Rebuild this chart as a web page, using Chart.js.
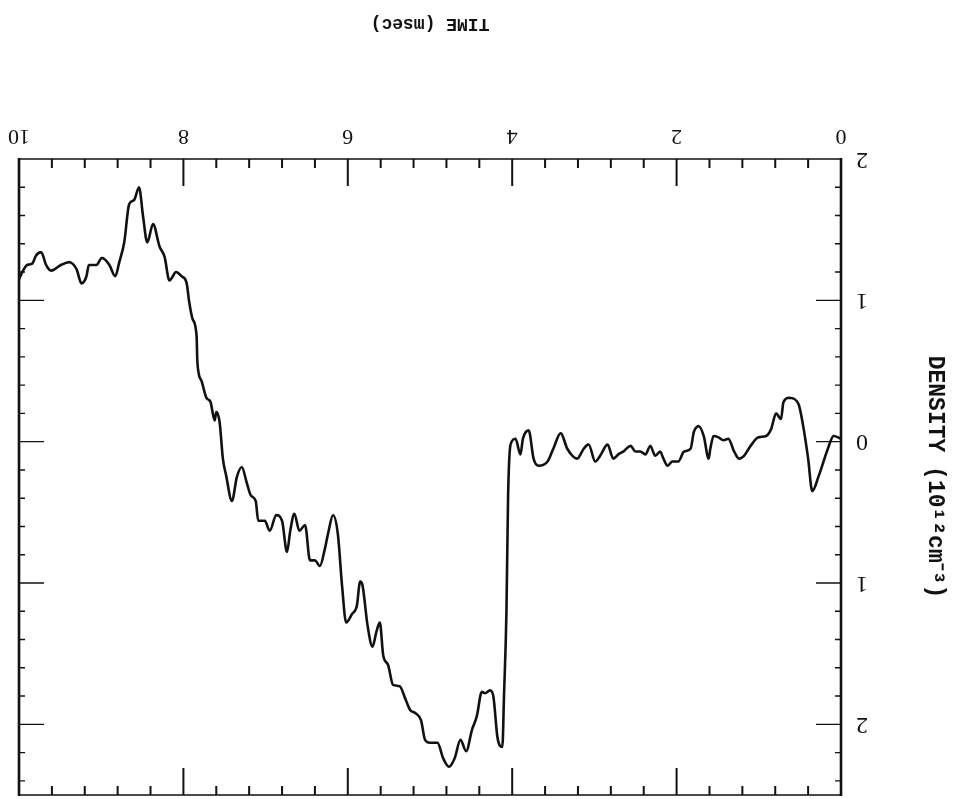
<!DOCTYPE html>
<html>
<head>
<meta charset="utf-8">
<script src="https://cdn.jsdelivr.net/npm/chart.js@4/dist/chart.umd.min.js"></script>
<style>
  html, body { margin: 0; padding: 0; background: #fff; }
  #wrap { width: 956px; height: 799px; position: relative; transform: rotate(180deg); }
</style>
</head>
<body>
<div id="wrap"><canvas id="plot"></canvas></div>
<script>
// Plasma density trace versus time
const TIME_MS = [
  0.00, 0.09, 0.16, 0.27, 0.35, 0.40, 0.46, 0.52, 0.63, 0.70, 0.73, 0.79, 0.85, 0.91,
  1.01, 1.10, 1.18, 1.24, 1.30, 1.37, 1.43, 1.49, 1.55, 1.59, 1.61, 1.67, 1.73, 1.79,
  1.83, 1.91, 1.98, 2.05, 2.11, 2.16, 2.20, 2.26, 2.32, 2.38, 2.44, 2.50, 2.56, 2.65,
  2.71, 2.77, 2.84, 2.93, 2.99, 3.07, 3.13, 3.21, 3.33, 3.41, 3.50, 3.57, 3.68, 3.74,
  3.80, 3.87, 3.90, 3.96, 4.02, 4.05, 4.07, 4.10, 4.12, 4.18, 4.23, 4.27, 4.33, 4.37,
  4.43, 4.49, 4.56, 4.63, 4.70, 4.77, 4.84, 4.91, 5.00, 5.06, 5.11, 5.18, 5.24, 5.30,
  5.37, 5.45, 5.51, 5.57, 5.61, 5.65, 5.70, 5.76, 5.82, 5.85, 5.89, 5.95, 6.02, 6.07,
  6.12, 6.18, 6.24, 6.28, 6.34, 6.40, 6.46, 6.52, 6.59, 6.65, 6.70, 6.74, 6.80, 6.87,
  6.95, 7.01, 7.09, 7.12, 7.18, 7.23, 7.29, 7.35, 7.41, 7.48, 7.52, 7.56, 7.60, 7.62,
  7.67, 7.72, 7.78, 7.83, 7.84, 7.89, 7.93, 7.96, 8.02, 8.09, 8.17, 8.23, 8.29, 8.37,
  8.44, 8.49, 8.54, 8.60, 8.66, 8.72, 8.78, 8.83, 8.90, 8.99, 9.06, 9.15, 9.18, 9.24,
  9.30, 9.39, 9.49, 9.61, 9.67, 9.73, 9.79, 9.84, 9.90, 9.96, 10.00
];
const DENSITY = [
  -0.02, -0.04, 0.05, 0.24, 0.35, 0.12, -0.11, -0.27, -0.31, -0.28, -0.16, -0.20, -0.09, -0.04,
  -0.03, 0.03, 0.10, 0.12, 0.07, -0.02, -0.01, -0.03, -0.04, 0.05, 0.12, -0.04, -0.11, -0.07,
  0.05, 0.07, 0.14, 0.14, 0.17, 0.12, 0.07, 0.10, 0.03, 0.09, 0.07, 0.07, 0.03, 0.07,
  0.09, 0.12, 0.02, 0.10, 0.14, 0.02, 0.05, 0.12, 0.05, -0.06, 0.05, 0.14, 0.17, 0.12,
  -0.08, -0.02, 0.09, -0.02, 0.02, 0.38, 1.20, 1.80, 2.16, 2.09, 1.80, 1.76, 1.78, 1.77,
  1.94, 2.04, 2.19, 2.11, 2.24, 2.30, 2.24, 2.13, 2.13, 2.11, 1.97, 1.92, 1.90, 1.82,
  1.73, 1.72, 1.58, 1.51, 1.28, 1.34, 1.45, 1.30, 1.02, 0.99, 1.16, 1.22, 1.28, 1.02,
  0.66, 0.52, 0.65, 0.76, 0.88, 0.84, 0.84, 0.59, 0.63, 0.51, 0.63, 0.78, 0.56, 0.52,
  0.63, 0.56, 0.56, 0.42, 0.38, 0.29, 0.18, 0.25, 0.42, 0.24, 0.12, -0.14, -0.21, -0.15,
  -0.28, -0.31, -0.43, -0.56, -0.75, -0.87, -0.99, -1.12, -1.17, -1.20, -1.14, -1.31, -1.38, -1.54,
  -1.41, -1.59, -1.80, -1.71, -1.68, -1.41, -1.27, -1.17, -1.25, -1.30, -1.25, -1.25, -1.17, -1.12,
  -1.22, -1.27, -1.25, -1.21, -1.25, -1.34, -1.32, -1.26, -1.25, -1.20, -1.15
];
const X_TICKS = [0, 2, 4, 6, 8, 10];
const X_TICK_LABELS = ['0', '2', '4', '6', '8', '10'];
const Y_TICKS = [-2, -1, 0, 1, 2];
const Y_TICK_LABELS = ['2', '1', '0', '1', '2'];
const X_TITLE = 'TIME (msec)';
const Y_TITLE = 'DENSITY (10\u00B9\u00B2cm\u207B\u00B3)';

const INK = '#111';

// Closed frame with tick marks pointing into the plot on all four sides
const frameTicks = {
  id: 'frameTicks',
  afterDatasetsDraw(chart) {
    const { ctx, chartArea: a, scales: { x, y } } = chart;
    ctx.save();
    ctx.strokeStyle = INK;
    ctx.lineCap = 'butt';

    // horizontal edges
    ctx.lineWidth = 1.6;
    ctx.beginPath();
    ctx.moveTo(a.left, a.top); ctx.lineTo(a.right, a.top);
    ctx.moveTo(a.left, a.bottom); ctx.lineTo(a.right, a.bottom);
    ctx.stroke();
    // vertical edges
    ctx.lineWidth = 2.6;
    ctx.beginPath();
    ctx.moveTo(a.left, a.top - 1); ctx.lineTo(a.left, a.bottom + 1);
    ctx.moveTo(a.right, a.top - 1); ctx.lineTo(a.right, a.bottom + 1);
    ctx.stroke();

    // time ticks: every 0.4 ms, long ones every 2 ms
    ctx.lineWidth = 2;
    ctx.beginPath();
    for (let i = 1; i < 25; i++) {
      const px = x.getPixelForValue(i * 0.4);
      const len = i % 5 === 0 ? 27 : 9;
      ctx.moveTo(px, a.bottom); ctx.lineTo(px, a.bottom - len);
      ctx.moveTo(px, a.top); ctx.lineTo(px, a.top + len);
    }
    ctx.stroke();

    // density ticks: every 0.2, long ones every 1
    ctx.lineWidth = 1.4;
    ctx.beginPath();
    for (let i = -9; i <= 12; i++) {
      const py = y.getPixelForValue(i * 0.2);
      const len = i % 5 === 0 ? 25 : 6;
      ctx.moveTo(a.left, py); ctx.lineTo(a.left + len, py);
      ctx.moveTo(a.right, py); ctx.lineTo(a.right - len, py);
    }
    ctx.stroke();
    ctx.restore();
  }
};

new Chart(document.getElementById('plot'), {
  type: 'line',
  data: {
    datasets: [{
      data: TIME_MS.map((t, i) => ({ x: t, y: DENSITY[i] })),
      borderColor: INK,
      borderWidth: 2.6,
      pointRadius: 0,
      fill: false,
      cubicInterpolationMode: 'monotone'
    }]
  },
  options: {
    responsive: true,
    maintainAspectRatio: false,
    animation: false,
    events: [],
    layout: { padding: { left: 0, right: 19, top: 4, bottom: 0 } },
    plugins: { legend: { display: false }, tooltip: { enabled: false } },
    scales: {
      x: {
        type: 'linear',
        min: 0,
        max: 10,
        afterBuildTicks: s => { s.ticks = X_TICKS.map(v => ({ value: v })); },
        afterFit: s => { s.height = 159; s.paddingLeft = 0; s.paddingRight = 0; },
        grid: { display: false, drawTicks: false },
        border: { display: false },
        ticks: {
          color: INK,
          padding: 10,
          maxRotation: 0,
          font: { family: 'Liberation Serif', size: 22 },
          callback: (v, i) => X_TICK_LABELS[i]
        },
        title: {
          display: true,
          text: X_TITLE,
          color: INK,
          padding: { top: 0, bottom: 13 },
          font: { family: 'Liberation Mono', size: 18, weight: 'bold' }
        }
      },
      y: {
        type: 'linear',
        min: -2,
        max: 2.5,
        afterBuildTicks: s => { s.ticks = Y_TICKS.map(v => ({ value: v })); },
        afterFit: s => { s.width = 115; s.paddingTop = 0; s.paddingBottom = 0; },
        grid: { display: false, drawTicks: false },
        border: { display: false },
        ticks: {
          color: INK,
          padding: 15,
          font: { family: 'Liberation Serif', size: 24 },
          callback: (v, i) => Y_TICK_LABELS[i]
        },
        title: {
          display: true,
          text: Y_TITLE,
          color: INK,
          padding: { top: 7, bottom: 0 },
          font: { family: 'Liberation Mono', size: 23, weight: 'bold' }
        }
      }
    }
  },
  plugins: [frameTicks]
});
</script>
</body>
</html>
